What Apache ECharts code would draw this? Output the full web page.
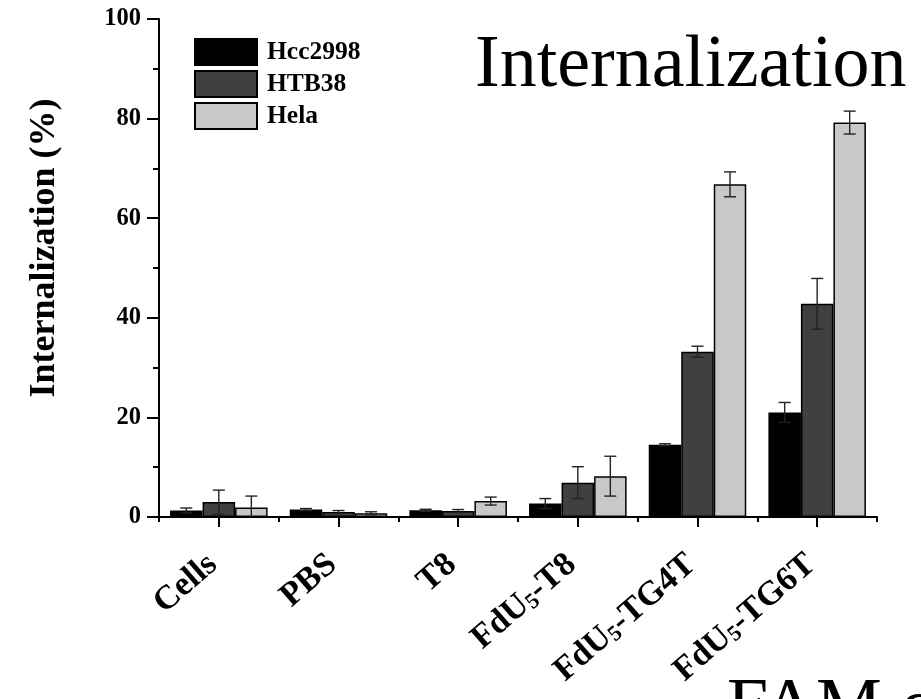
<!DOCTYPE html>
<html>
<head>
<meta charset="utf-8">
<script src="https://cdn.jsdelivr.net/npm/echarts@6/dist/echarts.min.js"></script>
<style>
  html, body { margin: 0; padding: 0; background: #fff; }
  #chart { width: 921px; height: 699px; }
</style>
</head>
<body>
<div id="chart"></div>
<script>
// ---- data ----
var categories = ['Cells', 'PBS', 'T8', 'FdU5-T8', 'FdU5-TG4T', 'FdU5-TG6T'];
var seriesNames = ['Hcc2998', 'HTB38', 'Hela'];
var hcc2998 = [1.3, 1.5, 1.35, 2.7, 14.5, 21.0];
var hcc2998Err = [0.5, 0.2, 0.2, 1.0, 0.2, 2.0];
var htb38 = [3.0, 1.0, 1.2, 6.9, 33.2, 42.8];
var htb38Err = [2.4, 0.3, 0.3, 3.2, 1.1, 5.1];
var hela = [1.9, 0.75, 3.2, 8.2, 66.8, 79.2];
var helaErr = [2.3, 0.3, 0.8, 4.0, 2.5, 2.3];
var yTicks = [0, 20, 40, 60, 80, 100];

var SERIF = "'Liberation Serif', 'Times New Roman', serif";
var barColors = ['#000000', '#404040', '#c8c8c8'];
var CAT_GAP = 0.185;

var chart = echarts.init(document.getElementById('chart'), null, { renderer: 'canvas' });

function errSeries(vals, errs, k) {
  return {
    type: 'custom',
    name: seriesNames[k] + ' err',
    xAxisIndex: 0,
    yAxisIndex: 0,
    z: 5,
    silent: true,
    data: vals.map(function (v, i) { return [i, v, errs[i]]; }),
    renderItem: function (params, api) {
      var ci = api.value(0), v = api.value(1), e = api.value(2);
      var band = api.size([1, 0])[0];
      var bw = band * (1 - CAT_GAP) / 3;
      var c = api.coord([ci, v]);
      var x = c[0] + (k - 1) * bw;
      var hi = api.coord([ci, v + e])[1];
      var lowVal = v - e;
      var lo = api.coord([ci, Math.max(lowVal, 0)])[1];
      var cap = 6;
      var st = { stroke: '#222', lineWidth: 1.4 };
      var children = [
        { type: 'line', shape: { x1: x, y1: hi, x2: x, y2: lo }, style: st },
        { type: 'line', shape: { x1: x - cap, y1: hi, x2: x + cap, y2: hi }, style: st }
      ];
      if (lowVal > 0) {
        children.push({ type: 'line', shape: { x1: x - cap, y1: lo, x2: x + cap, y2: lo }, style: st });
      }
      return { type: 'group', children: children };
    }
  };
}

function barSeries(vals, k) {
  return {
    type: 'bar',
    name: seriesNames[k],
    data: vals,
    barGap: '0%',
    barCategoryGap: (CAT_GAP * 100) + '%',
    itemStyle: { color: barColors[k], borderColor: '#000', borderWidth: 1.5 }
  };
}

var option = {
  backgroundColor: '#fff',
  animation: false,
  title: {
    text: 'Internalization',
    left: 475,
    top: 30,
    padding: 0,
    textStyle: { fontFamily: SERIF, fontSize: 74, fontWeight: 'normal', color: '#000' }
  },
  legend: {
    orient: 'vertical',
    left: 194,
    top: 38,
    padding: 0,
    itemWidth: 62,
    itemHeight: 26,
    itemGap: 4,
    icon: 'rect',
    data: seriesNames,
    textStyle: { fontFamily: SERIF, fontSize: 25.5, fontWeight: 'bold', color: '#000', padding: [0, 0, 0, 5], lineHeight: 26 }
  },
  grid: { left: 159, right: 44, top: 19, bottom: 182, containLabel: false },
  xAxis: [{
    type: 'category',
    data: categories,
    position: 'bottom',
    axisLine: { show: true, lineStyle: { color: '#000', width: 2 } },
    axisTick: { show: true, alignWithLabel: true, length: 10, lineStyle: { color: '#000', width: 2 } },
    axisLabel: {
      interval: 0,
      rotate: 41,
      margin: 38,
      padding: [0, 8, 0, 0],
      formatter: function (v) {
        var m = v.match(/^(FdU)5(-.*)$/);
        if (m) { return '{a|' + m[1] + '}{s|5}{a|' + m[2] + '}'; }
        return '{a|' + v + '}';
      },
      rich: {
        a: { fontFamily: SERIF, fontSize: 34, fontWeight: 'bold', color: '#000' },
        s: { fontFamily: SERIF, fontSize: 22, fontWeight: 'bold', color: '#000', verticalAlign: 'bottom', padding: [12, 0, 0, 0] }
      }
    },
    splitLine: { show: false }
  }, {
    type: 'category',
    data: categories,
    position: 'bottom',
    axisLine: { show: false },
    axisTick: { show: true, alignWithLabel: false, length: 5, lineStyle: { color: '#000', width: 2 } },
    axisLabel: { show: false },
    splitLine: { show: false }
  }],
  yAxis: {
    type: 'value',
    min: yTicks[0],
    max: yTicks[yTicks.length - 1],
    interval: 20,
    name: 'Internalization (%)',
    nameLocation: 'middle',
    nameGap: 96,
    nameRotate: 90,
    nameTextStyle: { fontFamily: SERIF, fontSize: 36, fontWeight: 'bold', color: '#000', padding: [0, 0, 0, 40] },
    axisLine: { show: true, lineStyle: { color: '#000', width: 2 } },
    axisTick: { show: true, length: 12, lineStyle: { color: '#000', width: 2 } },
    minorTick: { show: true, splitNumber: 2, length: 6, lineStyle: { color: '#000', width: 2 } },
    axisLabel: { margin: 18, fontFamily: SERIF, fontSize: 24.5, fontWeight: 'bold', color: '#000' },
    splitLine: { show: false },
    minorSplitLine: { show: false }
  },
  graphic: [{
    type: 'text',
    silent: true,
    style: {
      x: 727, y: 710,
      text: 'FAM qu',
      fontFamily: SERIF, fontSize: 74, fill: '#000',
      verticalAlign: 'middle', align: 'left'
    }
  }],
  series: [
    barSeries(hcc2998, 0),
    barSeries(htb38, 1),
    barSeries(hela, 2),
    errSeries(hcc2998, hcc2998Err, 0),
    errSeries(htb38, htb38Err, 1),
    errSeries(hela, helaErr, 2)
  ]
};
chart.setOption(option);
</script>
</body>
</html>
